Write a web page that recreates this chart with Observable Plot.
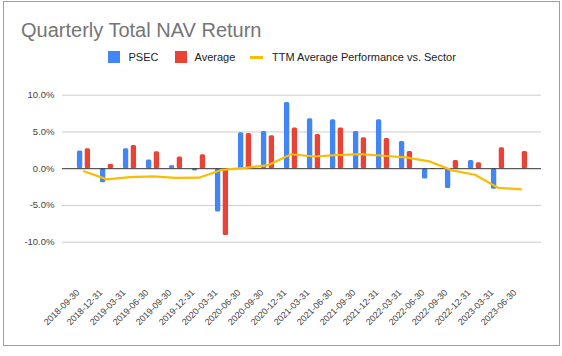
<!DOCTYPE html>
<html><head><meta charset="utf-8">
<script src="https://cdn.jsdelivr.net/npm/d3@7"></script>
<script src="https://cdn.jsdelivr.net/npm/@observablehq/plot@0.6"></script>
<style>
body{margin:0;background:#fff;font-family:"Liberation Sans",Arial,sans-serif;}
#wrap{position:relative;width:562px;height:356px;overflow:hidden;background:#fff;}
#head{position:relative;width:562px;height:70px;}
#frame{position:absolute;left:3px;top:1px;width:555px;height:343px;border:1px solid #9e9e9e;pointer-events:none;}
.title{position:absolute;left:21px;top:20px;font-size:20px;line-height:20px;color:#757575;white-space:nowrap;}
.sw{position:absolute;}
.lt{position:absolute;font-size:11px;line-height:12px;color:#222;top:51px;white-space:nowrap;}
#chart svg{display:block;}
</style>
</head><body>
<div id="wrap">
  <div id="head">
    <div class="title">Quarterly Total NAV Return</div>
    <div class="sw" style="left:108px;top:51px;width:12px;height:12px;background:#4285f4"></div>
    <div class="lt" style="left:128.5px">PSEC</div>
    <div class="sw" style="left:175px;top:51px;width:12px;height:12px;background:#ea4335"></div>
    <div class="lt" style="left:194.5px">Average</div>
    <div class="sw" style="left:250px;top:56px;width:13px;height:2.5px;background:#fbbc04"></div>
    <div class="lt" style="left:272px">TTM Average Performance vs. Sector</div>
  </div>
  <div id="chart"></div>
  <div id="frame"></div>
</div>
<script>
const dates = ["2018-09-30","2018-12-31","2019-03-31","2019-06-30","2019-09-30","2019-12-31","2020-03-31","2020-06-30","2020-09-30","2020-12-31","2021-03-31","2021-06-30","2021-09-30","2021-12-31","2022-03-31","2022-06-30","2022-09-30","2022-12-31","2023-03-31","2023-06-30"];
const psec = [2.4, -1.9, 2.7, 1.2, 0.4, -0.3, -5.9, 4.9, 5.05, 9.0, 6.8, 6.65, 5.05, 6.65, 3.7, -1.4, -2.7, 1.1, -2.8, null];
const average = [2.7, 0.6, 3.15, 2.3, 1.6, 1.9, -9.1, 4.8, 4.5, 5.55, 4.65, 5.55, 4.2, 4.1, 2.35, -0.1, 1.1, 0.8, 2.85, 2.35];
const ttm = [-0.35, -1.45, -1.15, -1.05, -1.25, -1.22, -0.15, 0.12, 0.48, 1.97, 1.66, 1.84, 1.97, 1.76, 1.53, 1.0, -0.23, -0.82, -2.6, -2.8];
const yTicks = [-10, -5, 0, 5, 10];

const psecData = dates.map((d, i) => ({date: d, v: psec[i]})).filter(d => d.v != null);
const avgData = dates.map((d, i) => ({date: d, v: average[i]})).filter(d => d.v != null);
const ttmData = dates.map((d, i) => ({date: d, v: ttm[i]}));

const plot = Plot.plot({
  width: 562,
  height: 286,
  marginLeft: 62,
  marginRight: 21,
  marginTop: 24.7,
  marginBottom: 114.3,
  style: {fontFamily: "'Liberation Sans', Arial, sans-serif", fontSize: "10px", color: "#444", background: "white", overflow: "visible"},
  x: {type: "band", domain: dates, padding: 0, insetLeft: 2.9, insetRight: 2.5, label: null},
  y: {domain: [-10, 10], label: null},
  marks: [
    Plot.gridY(yTicks.filter(t => t !== 0), {stroke: "#cccccc", strokeOpacity: 1}),
    Plot.axisY({ticks: yTicks, tickSize: 0, tickPadding: 8, tickFormat: d => d.toFixed(1) + "%", fontSize: 9.5, fill: "#444", label: null}),
    Plot.axisX({tickRotate: -45, tickSize: 0, tickPadding: 48, dx: -6, dy: 1, fontSize: 9, fill: "#444", label: null}),
    Plot.barY(psecData, {x: "date", y: "v", fill: "#4285f4", dx: -3.9, insetLeft: 8.84, insetRight: 8.84, rx: 1.5}),
    Plot.barY(avgData, {x: "date", y: "v", fill: "#ea4335", dx: 3.9, insetLeft: 8.84, insetRight: 8.84, rx: 1.5}),
    Plot.ruleY([0], {stroke: "#333333", strokeWidth: 1}),
    Plot.line(ttmData, {x: "date", y: "v", stroke: "#fbbc04", strokeWidth: 2.2, strokeLinejoin: "round"})
  ]
});
document.getElementById("chart").appendChild(plot);
</script>
</body></html>
